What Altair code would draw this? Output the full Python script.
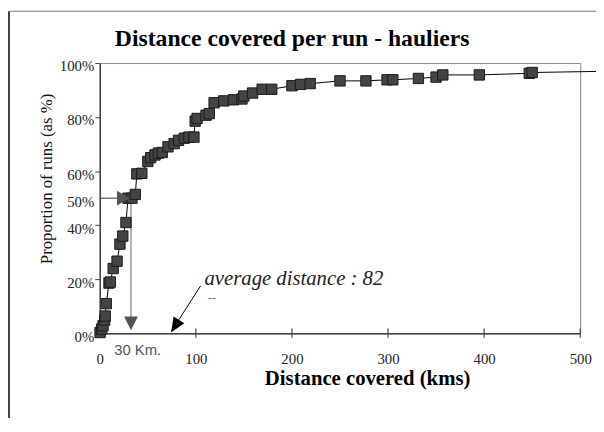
import altair as alt
import pandas as pd

# ---- data ----
distance_km = [0.3, 2.0, 3.4, 5.1, 5.7, 6.8, 9.6, 11.0, 14.0, 18.0, 21.0, 24.0,
               27.3, 29.4, 33.5, 37.0, 38.6, 43.8, 50.0, 53.0, 57.5, 61.0, 65.0,
               71.0, 77.4, 82.0, 88.0, 92.8, 98.0, 99.3, 101.3, 110.6, 114.0,
               119.0, 129.0, 139.0, 148.0, 150.0, 159.0, 169.0, 179.0, 200.0,
               209.0, 219.0, 250.0, 277.0, 299.0, 305.0, 331.6, 350.0, 357.0,
               395.0, 447.0, 450.0]
share_pct = [0.3, 1.6, 2.8, 4.9, 6.4, 11.0, 18.6, 19.0, 24.0, 26.7, 33.0, 36.0,
             41.0, 50.0, 50.0, 51.4, 59.0, 59.2, 63.6, 65.0, 66.0, 66.7, 66.9,
             69.0, 70.2, 71.4, 72.2, 72.6, 72.6, 78.5, 79.5, 80.7, 81.3,
             85.3, 86.0, 86.4, 86.7, 87.8, 88.9, 90.3, 90.3, 91.6,
             92.1, 92.4, 93.4, 93.4, 93.8, 93.8, 94.3, 94.8, 95.6,
             95.6, 96.2, 96.5]
line_end_km = [600.0]
line_end_pct = [97.4]

x_tick_values = [0, 100, 200, 300, 400, 500]
y_tick_values = [0, 20, 40, 50, 60, 80, 100]

median_km = 32.5
median_pct = 50
average_km = 82
average_label = "average distance : 82"
median_label = "30 Km."
title_text = "Distance covered per run - hauliers"

W, H = 487, 274
SERIF = "Liberation Serif"
SANS = "Liberation Sans"

points = pd.DataFrame({"km": distance_km, "pct": share_pct})
line_df = pd.DataFrame({"km": distance_km + line_end_km, "pct": share_pct + line_end_pct})

xs = alt.Scale(domain=[0, 500], nice=False, zero=False)
ys = alt.Scale(domain=[0, 100], nice=False, zero=False)

x_axis = alt.Axis(
    values=x_tick_values, title="Distance covered (kms)", grid=False,
    titleFont=SERIF, titleFontSize=21, titleFontWeight="bold", titleColor="#000",
    titleX=271, titleY=52, titleAlign="center", titleBaseline="alphabetic",
    labelFont=SERIF, labelFontSize=15, labelColor="#222", labelBaseline="alphabetic",
    labelPadding=31, tickSize=0, labelFlush=False, labelOverlap=False,
    domainColor="#444", domainWidth=1.5,
)
y_axis = alt.Axis(
    values=y_tick_values, labelExpr="datum.value + '%'",
    title="Proportion of runs (as %)", grid=False,
    titleFont=SERIF, titleFontSize=17, titleFontWeight="normal", titleColor="#111",
    titleX=-49, titleY=117, titleAngle=270, titleAlign="center", titleBaseline="alphabetic",
    labelFont=SERIF, labelFontSize=15, labelColor="#222", labelAlign="right",
    labelBaseline="alphabetic", labelOffset=8, labelPadding=1, labelOverlap=False,
    tickSize=5, tickColor="#444",
    tickOpacity={"condition": {"test": "datum.value === 50", "value": 0}, "value": 1},
    domainColor="#444", domainWidth=1.5,
)


def X(field="km"):
    return alt.X(f"{field}:Q", scale=xs, axis=x_axis)


def Y(field="pct"):
    return alt.Y(f"{field}:Q", scale=ys, axis=y_axis)


line = alt.Chart(line_df).mark_line(color="#000", strokeWidth=1, clip=False).encode(
    x=X(), y=Y(), order="km:Q")
markers = alt.Chart(points).mark_point(
    shape="square", filled=True, fill="#444", stroke="#1a1a1a", strokeWidth=1,
    size=110, opacity=1).encode(x=X(), y=Y())

# median annotation (50% -> 30 km)
med_h = alt.Chart(pd.DataFrame({"km": [0], "km2": [24], "pct": [median_pct], "pct2": [median_pct]})) \
    .mark_rule(color="#555", strokeWidth=1.2).encode(x=X(), x2="km2:Q", y=Y(), y2="pct2:Q")
med_v = alt.Chart(pd.DataFrame({"km": [median_km], "pct": [median_pct + 0.5], "pct2": [4]})) \
    .mark_rule(color="#666", strokeWidth=1).encode(x=X(), y=Y(), y2="pct2:Q")
med_head_r = alt.Chart(pd.DataFrame({"km": [24.5], "pct": [median_pct]})).mark_point(
    shape="M-0.85,-1L0.85,0L-0.85,1Z", filled=True, fill="#555", size=225, opacity=1,
    strokeWidth=0).encode(x=X(), y=Y())
med_head_d = alt.Chart(pd.DataFrame({"km": [median_km], "pct": [3.7]})).mark_point(
    shape="M-1,-1L1,-1L0,1Z", filled=True, fill="#555", size=196, opacity=1,
    strokeWidth=0).encode(x=X(), y=Y())
med_text = alt.Chart(pd.DataFrame({"km": [39.5], "pct": [-6.2], "t": [median_label]})).mark_text(
    font=SANS, fontSize=15, color="#555", align="center", baseline="middle", clip=False
).encode(x=X(), y=Y(), text="t:N")

# average annotation
avg_line = alt.Chart(pd.DataFrame({"km": [105], "km2": [75], "pct": [17.6], "pct2": [1]})) \
    .mark_rule(color="#000", strokeWidth=1).encode(x=X(), x2="km2:Q", y=Y(), y2="pct2:Q")
avg_head = alt.Chart(pd.DataFrame({"km": [78.3], "pct": [2.66]})).mark_point(
    shape="M-0.85,-1L0.85,-1L0,1Z", filled=True, fill="#000", size=225, opacity=1,
    strokeWidth=0, angle=32).encode(x=X(), y=Y())
avg_text = alt.Chart(pd.DataFrame({"km": [109], "pct": [17.9], "t": [average_label]})).mark_text(
    font=SERIF, fontSize=21, fontStyle="italic", color="#222", align="left",
    baseline="alphabetic", clip=False).encode(x=X(), y=Y(), text="t:N")
avg_dash = alt.Chart(pd.DataFrame({"km": [112], "pct": [13.0], "t": ["--"]})).mark_text(
    font=SERIF, fontSize=13, color="#777", align="left", baseline="middle"
).encode(x=X(), y=Y(), text="t:N")

# x ticks crossing the axis line
x_ticks = alt.Chart(pd.DataFrame({"km": x_tick_values[1:]})).mark_rule(
    color="#444", strokeWidth=1.2).encode(x=X(), y=alt.value(H - 5), y2=alt.value(H + 4.5))

# title and outer frame
title = alt.Chart(pd.DataFrame({"t": [title_text]})).mark_text(
    font=SERIF, fontSize=24, fontWeight="bold", color="#000", align="center",
    baseline="alphabetic").encode(x=alt.value(195), y=alt.value(-17.7), text="t:N")
frame_left = alt.Chart(pd.DataFrame({"a": [0]})).mark_rule(color="#000", strokeWidth=1.5).encode(
    x=alt.value(-92), y=alt.value(-52.5), y2=alt.value(360))
frame_top = alt.Chart(pd.DataFrame({"a": [0]})).mark_rule(color="#777", strokeWidth=1.2).encode(
    x=alt.value(-92), x2=alt.value(510), y=alt.value(-52.5))

chart = alt.layer(
    frame_left, frame_top, title,
    line, med_h, med_v, avg_line, x_ticks,
    markers, med_head_r, med_head_d, avg_head,
    med_text, avg_text, avg_dash,
).properties(
    width=W, height=H,
    autosize=alt.AutoSizeParams(type="none"),
    padding={"left": 93, "top": 53, "right": 16, "bottom": 83},
    background="white",
).configure_view(stroke="#888", strokeWidth=1)

chart.save("out.html", embed_options={"renderer": "svg", "actions": False})
